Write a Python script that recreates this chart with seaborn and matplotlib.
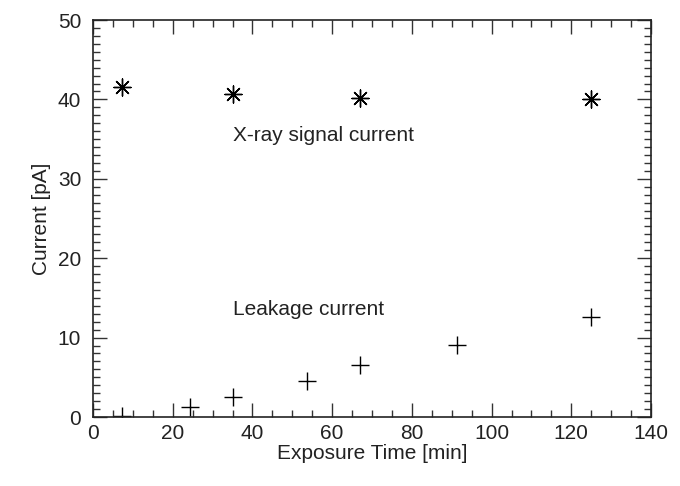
import matplotlib
matplotlib.use("Agg")
import matplotlib.pyplot as plt
import seaborn as sns
import pandas as pd
from matplotlib.ticker import MultipleLocator

sns.set_style("ticks")
plt.rcParams['font.family'] = ['Liberation Sans', 'DejaVu Sans']

signal_time = [7.3, 35.1, 67, 124.9]
signal_current = [41.6, 40.7, 40.2, 40.1]
leak_time = [7.3, 24.3, 35.1, 53.7, 67, 91.3, 124.9]
leak_current = [0.1, 1.2, 2.5, 4.5, 6.6, 9.1, 12.6]

df_sig = pd.DataFrame({"t": signal_time, "c": signal_current})
df_leak = pd.DataFrame({"t": leak_time, "c": leak_current})

fig = plt.figure(figsize=(6.8, 4.86), dpi=100)
ax = fig.add_axes([93 / 680, (486 - 417) / 486, 558 / 680, 397 / 486])

sns.scatterplot(data=df_sig, x="t", y="c", ax=ax, marker=(8, 2, 0), s=150,
                color="black", linewidth=1.0, edgecolor="black")
sns.scatterplot(data=df_leak, x="t", y="c", ax=ax, marker="+", s=170,
                color="black", linewidth=1.0)

ax.text(35.1, 35.4, "X-ray signal current", fontsize=15, va="center", ha="left",
        color="#222222")
ax.text(35.1, 13.5, "Leakage current", fontsize=15, va="center", ha="left",
        color="#222222")

ax.set_xlim(0, 140)
ax.set_ylim(0, 50)
ax.xaxis.set_major_locator(MultipleLocator(20))
ax.xaxis.set_minor_locator(MultipleLocator(5))
ax.yaxis.set_major_locator(MultipleLocator(10))
ax.yaxis.set_minor_locator(MultipleLocator(1))
ax.tick_params(which="both", direction="in", top=True, right=True, labelsize=15,
               color="#333333", width=1, labelcolor="#222222")
ax.tick_params(axis="x", which="major", length=10, pad=5)
ax.tick_params(axis="y", which="major", length=10, pad=8.5)
ax.tick_params(which="minor", length=5)
for sp in ax.spines.values():
    sp.set_visible(True)
    sp.set_color("#222222")
    sp.set_linewidth(1.2)

ax.set_xlabel("Exposure Time [min]", fontsize=15, labelpad=1, color="#222222")
ax.set_ylabel("Current [pA]", fontsize=15, labelpad=5, color="#222222")

fig.savefig("out.png", dpi=100)
